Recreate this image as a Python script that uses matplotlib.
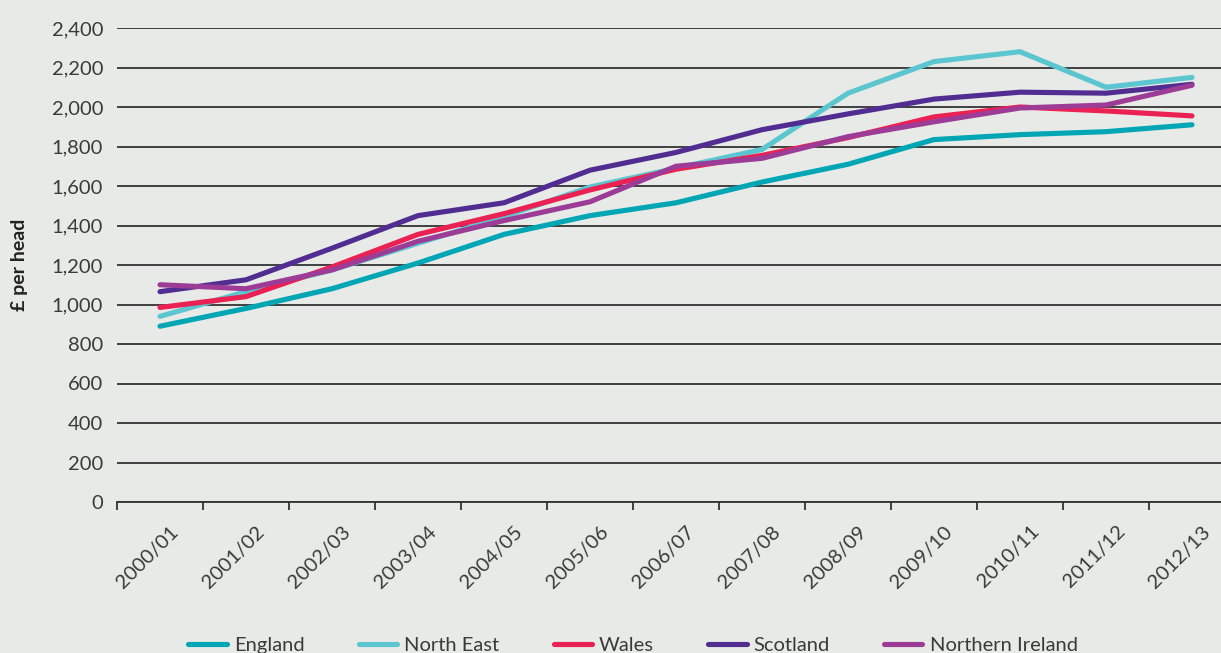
import matplotlib
matplotlib.use('Agg')
import matplotlib.pyplot as plt
import matplotlib.transforms as mtransforms

plt.rcParams['font.family'] = ['Lato', 'DejaVu Sans']

# spending per head, £
years = ['2000/01', '2001/02', '2002/03', '2003/04', '2004/05', '2005/06', '2006/07',
         '2007/08', '2008/09', '2009/10', '2010/11', '2011/12', '2012/13']
england = [890, 980, 1080, 1210, 1355, 1450, 1515, 1620, 1710, 1835, 1860, 1875, 1910]
north_east = [940, 1065, 1175, 1310, 1445, 1595, 1690, 1785, 2070, 2230, 2280, 2100, 2150]
wales = [985, 1040, 1190, 1355, 1460, 1580, 1685, 1755, 1845, 1950, 2000, 1980, 1955]
scotland = [1065, 1125, 1285, 1450, 1515, 1680, 1770, 1885, 1965, 2040, 2075, 2070, 2115]
northern_ireland = [1100, 1080, 1175, 1320, 1425, 1520, 1700, 1740, 1850, 1925, 1995, 2010, 2110]

series = [
    ('England', england, '#00a6b4'),
    ('North East', north_east, '#5bc6d0'),
    ('Wales', wales, '#ea2152'),
    ('Scotland', scotland, '#512d91'),
    ('Northern Ireland', northern_ireland, '#9d3c97'),
]

bg = '#e8eae7'
fig = plt.figure(figsize=(12.21, 6.53), dpi=100, facecolor=bg)
W, H = 1221, 653
# axes runs past the right edge of the figure, like the original
ax = fig.add_axes([117 / W, (H - 502) / H, (1235 - 117) / W, (502 - 28) / H])
ax.set_facecolor(bg)

x = list(range(len(years)))
for name, vals, col in series:
    ax.plot(x, vals, color=col, lw=3.7, label=name, solid_capstyle='round',
            solid_joinstyle='round', clip_on=False, zorder=3)

ax.set_xlim(-0.5, 12.5)
ax.set_ylim(0, 2400)
ax.set_yticks(range(0, 2401, 200))
ax.set_yticklabels([f'{v:,}' for v in range(0, 2401, 200)])
ax.yaxis.grid(True, color='#333333', lw=1.3)
ax.set_axisbelow(True)
for s in ['top', 'right', 'left']:
    ax.spines[s].set_visible(False)
ax.spines['bottom'].set_color('#333333')
ax.spines['bottom'].set_linewidth(1.3)

ax.tick_params(axis='y', length=0, pad=10, labelsize=14.5, labelcolor='#3a3a3a')
ax.set_xticks(x)
ax.set_xticklabels(years, rotation=45, ha='right', rotation_mode='anchor')
ax.set_xticks([i - 0.5 for i in range(len(years) + 1)], minor=True)
ax.tick_params(axis='x', which='major', length=0, pad=15, labelsize=14.5, labelcolor='#3a3a3a')
ax.tick_params(axis='x', which='minor', length=6, width=1.3, color='#333333')
offset = mtransforms.ScaledTranslation(10 / 100, 0, fig.dpi_scale_trans)
for lab in ax.get_xticklabels():
    lab.set_transform(lab.get_transform() + offset)

fig.text(20 / W, 1 - 265 / H, '£ per head', rotation=90, ha='center', va='center',
         fontsize=14, fontweight='bold', color='#222222')

leg = fig.legend(*ax.get_legend_handles_labels(), loc='center', ncol=5,
                 bbox_to_anchor=(633 / W, 8 / H), frameon=False, fontsize=14.5,
                 handlelength=1.9, handletextpad=0.35, columnspacing=2.7,
                 labelcolor='#3a3a3a')
for line in leg.get_lines():
    line.set_linewidth(3.7)

fig.savefig('out.png', dpi=100, facecolor=bg)
